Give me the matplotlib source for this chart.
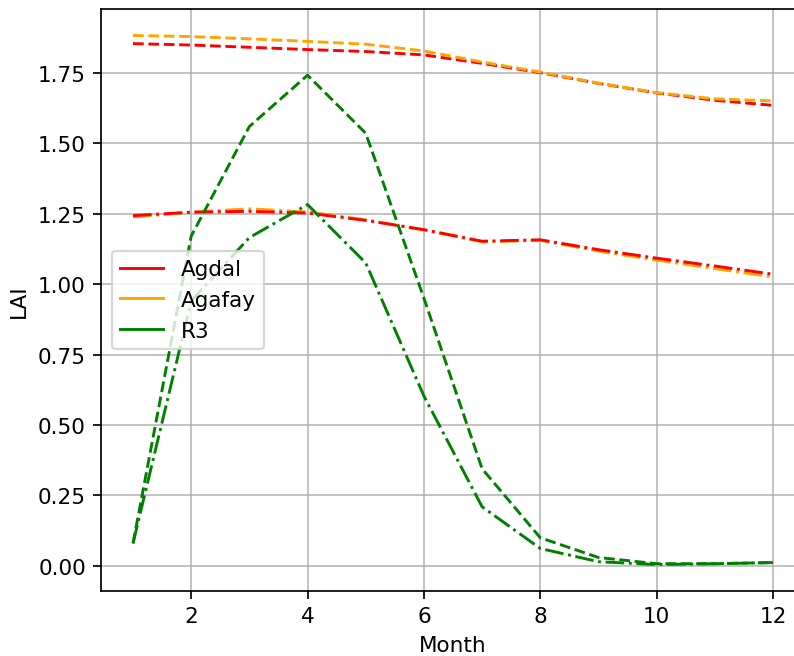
import numpy as np
import matplotlib
matplotlib.use('Agg')
import matplotlib.pyplot as plt
from matplotlib.lines import Line2D

# LAI per month, dashed and dash-dot series per site
months = np.arange(1, 13)

agdal_dashed = [1.853, 1.848, 1.840, 1.832, 1.825, 1.813, 1.783, 1.750, 1.712, 1.678, 1.652, 1.634]
agafay_dashed = [1.882, 1.878, 1.870, 1.861, 1.851, 1.827, 1.788, 1.752, 1.713, 1.679, 1.657, 1.650]
agdal_dashdot = [1.243, 1.255, 1.258, 1.252, 1.226, 1.193, 1.152, 1.157, 1.122, 1.092, 1.064, 1.035]
agafay_dashdot = [1.238, 1.255, 1.267, 1.256, 1.228, 1.192, 1.150, 1.155, 1.117, 1.085, 1.055, 1.025]
r3_dashed = [0.080, 1.170, 1.559, 1.741, 1.535, 0.950, 0.345, 0.100, 0.030, 0.008, 0.008, 0.012]
r3_dashdot = [0.080, 0.940, 1.165, 1.282, 1.075, 0.603, 0.210, 0.062, 0.015, 0.005, 0.008, 0.012]

sites = ['Agdal', 'Agafay', 'R3']
colors = ['red', 'orange', 'green']

dpi = 155
fig = plt.figure(figsize=(794 / dpi, 657 / dpi), dpi=dpi)
# axes placed in pixels (right spine runs past the figure edge as in the reference)
ax = fig.add_axes([101 / 794, 65 / 657, (805 - 101) / 794, (592 - 10) / 657])

lw = 1.35
ax.plot(months, agdal_dashed, color='red', linestyle='--', lw=lw)
ax.plot(months, agafay_dashed, color='orange', linestyle='--', lw=lw)
ax.plot(months, agafay_dashdot, color='orange', linestyle='-.', lw=lw)
ax.plot(months, agdal_dashdot, color='red', linestyle='-.', lw=lw)
ax.plot(months, r3_dashed, color='green', linestyle='--', lw=lw)
ax.plot(months, r3_dashdot, color='green', linestyle='-.', lw=lw)

handles = [Line2D([0], [0], color=c, lw=lw) for c in colors]
ax.legend(handles, sites, loc='center left')

ax.set_xlabel('Month')
ax.set_ylabel('LAI')
ax.grid(True, lw=0.7)

fig.savefig('out.png', dpi=dpi)
